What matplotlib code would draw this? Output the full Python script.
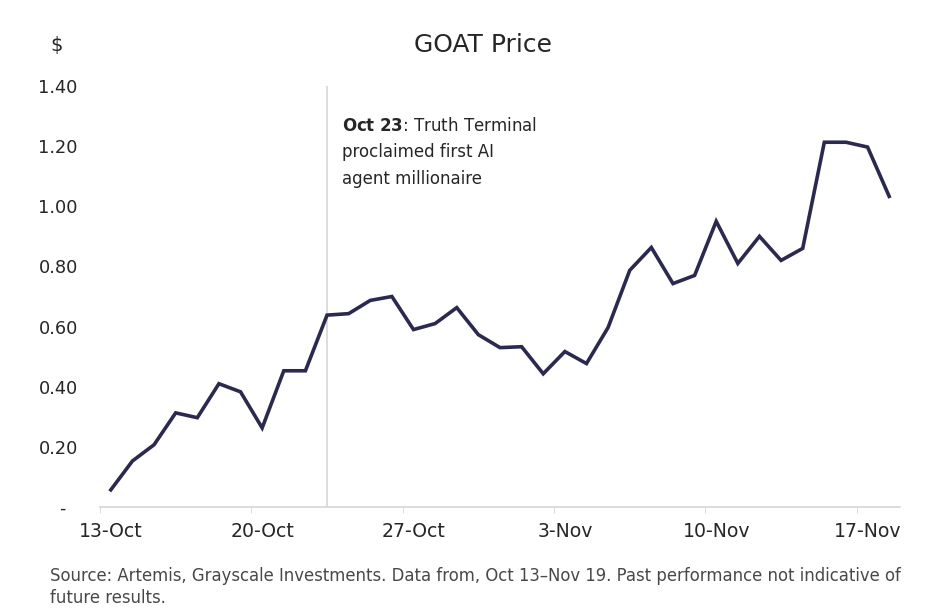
import matplotlib.pyplot as plt
import numpy as np

# GOAT daily price, 13 Oct - 18 Nov
dates = ['13-Oct', '14-Oct', '15-Oct', '16-Oct', '17-Oct', '18-Oct', '19-Oct',
         '20-Oct', '21-Oct', '22-Oct', '23-Oct', '24-Oct', '25-Oct', '26-Oct',
         '27-Oct', '28-Oct', '29-Oct', '30-Oct', '31-Oct', '1-Nov', '2-Nov',
         '3-Nov', '4-Nov', '5-Nov', '6-Nov', '7-Nov', '8-Nov', '9-Nov',
         '10-Nov', '11-Nov', '12-Nov', '13-Nov', '14-Nov', '15-Nov', '16-Nov',
         '17-Nov', '18-Nov']
price = [0.057, 0.153, 0.207, 0.313, 0.297, 0.41, 0.383, 0.263, 0.453, 0.453,
         0.638, 0.643, 0.687, 0.70, 0.59, 0.61, 0.663, 0.573, 0.53, 0.533,
         0.443, 0.517, 0.477, 0.597, 0.787, 0.863, 0.743, 0.77, 0.95, 0.81,
         0.90, 0.82, 0.86, 1.213, 1.213, 1.197, 1.033]
yticks = [0, 0.2, 0.4, 0.6, 0.8, 1.0, 1.2, 1.4]
ytick_labels = ['-  ', '0.20', '0.40', '0.60', '0.80', '1.00', '1.20', '1.40']
event_date = '23-Oct'

plt.rcParams['font.family'] = ['DejaVu Sans']
text_col = '#262626'

fig = plt.figure(figsize=(9.52, 6.16), dpi=100)
ax = fig.add_axes([100 / 952, 1 - 507 / 616, 800 / 952, 421 / 616])

x = np.arange(len(dates))
ax.plot(x, price, color='#2b2a4e', lw=2.6, solid_joinstyle='miter')

ev = dates.index(event_date)
ax.axvline(ev, color='#d6d6d6', lw=1.2, zorder=0)
ax.text(ev + 0.7, 1.297, r'$\bf{Oct\ 23}$' + ': Truth Terminal\nproclaimed first AI\nagent millionaire',
        fontsize=12, color=text_col, va='top', ha='left', linespacing=1.6)

ax.set_xlim(-0.5, len(dates) - 0.5)
ax.set_ylim(0, 1.4)

# labels on every 7th category, tick marks on category boundaries
ax.set_xticks(x[::7])
ax.set_xticklabels([dates[i] for i in x[::7]], fontsize=13.6, color=text_col)
ax.set_xticks(np.arange(-0.5, len(dates), 7), minor=True)
ax.tick_params(axis='x', which='major', length=0, pad=11)
ax.tick_params(axis='x', which='minor', length=4, color='#d6d6d6')

ax.set_yticks(yticks)
ax.set_yticklabels(ytick_labels, fontsize=12.8, color=text_col)
ax.tick_params(axis='y', length=0, pad=16)

for s in ['top', 'right', 'left']:
    ax.spines[s].set_visible(False)
ax.spines['bottom'].set_color('#d6d6d6')
ax.spines['bottom'].set_linewidth(1.2)

fig.text(57 / 952, 1 - 45 / 616, '$', fontsize=14, color=text_col, ha='center', va='center')
fig.text(483 / 952, 1 - 45 / 616, 'GOAT Price', fontsize=18, color=text_col, ha='center', va='center')
fig.text(50 / 952, 1 - 567 / 616,
         'Source: Artemis, Grayscale Investments. Data from, Oct 13\u2013Nov 19. Past performance not indicative of\nfuture results.',
         fontsize=11.9, color='#484848', ha='left', va='top', linespacing=1.3)

fig.savefig('out.png', dpi=100, facecolor='white')
